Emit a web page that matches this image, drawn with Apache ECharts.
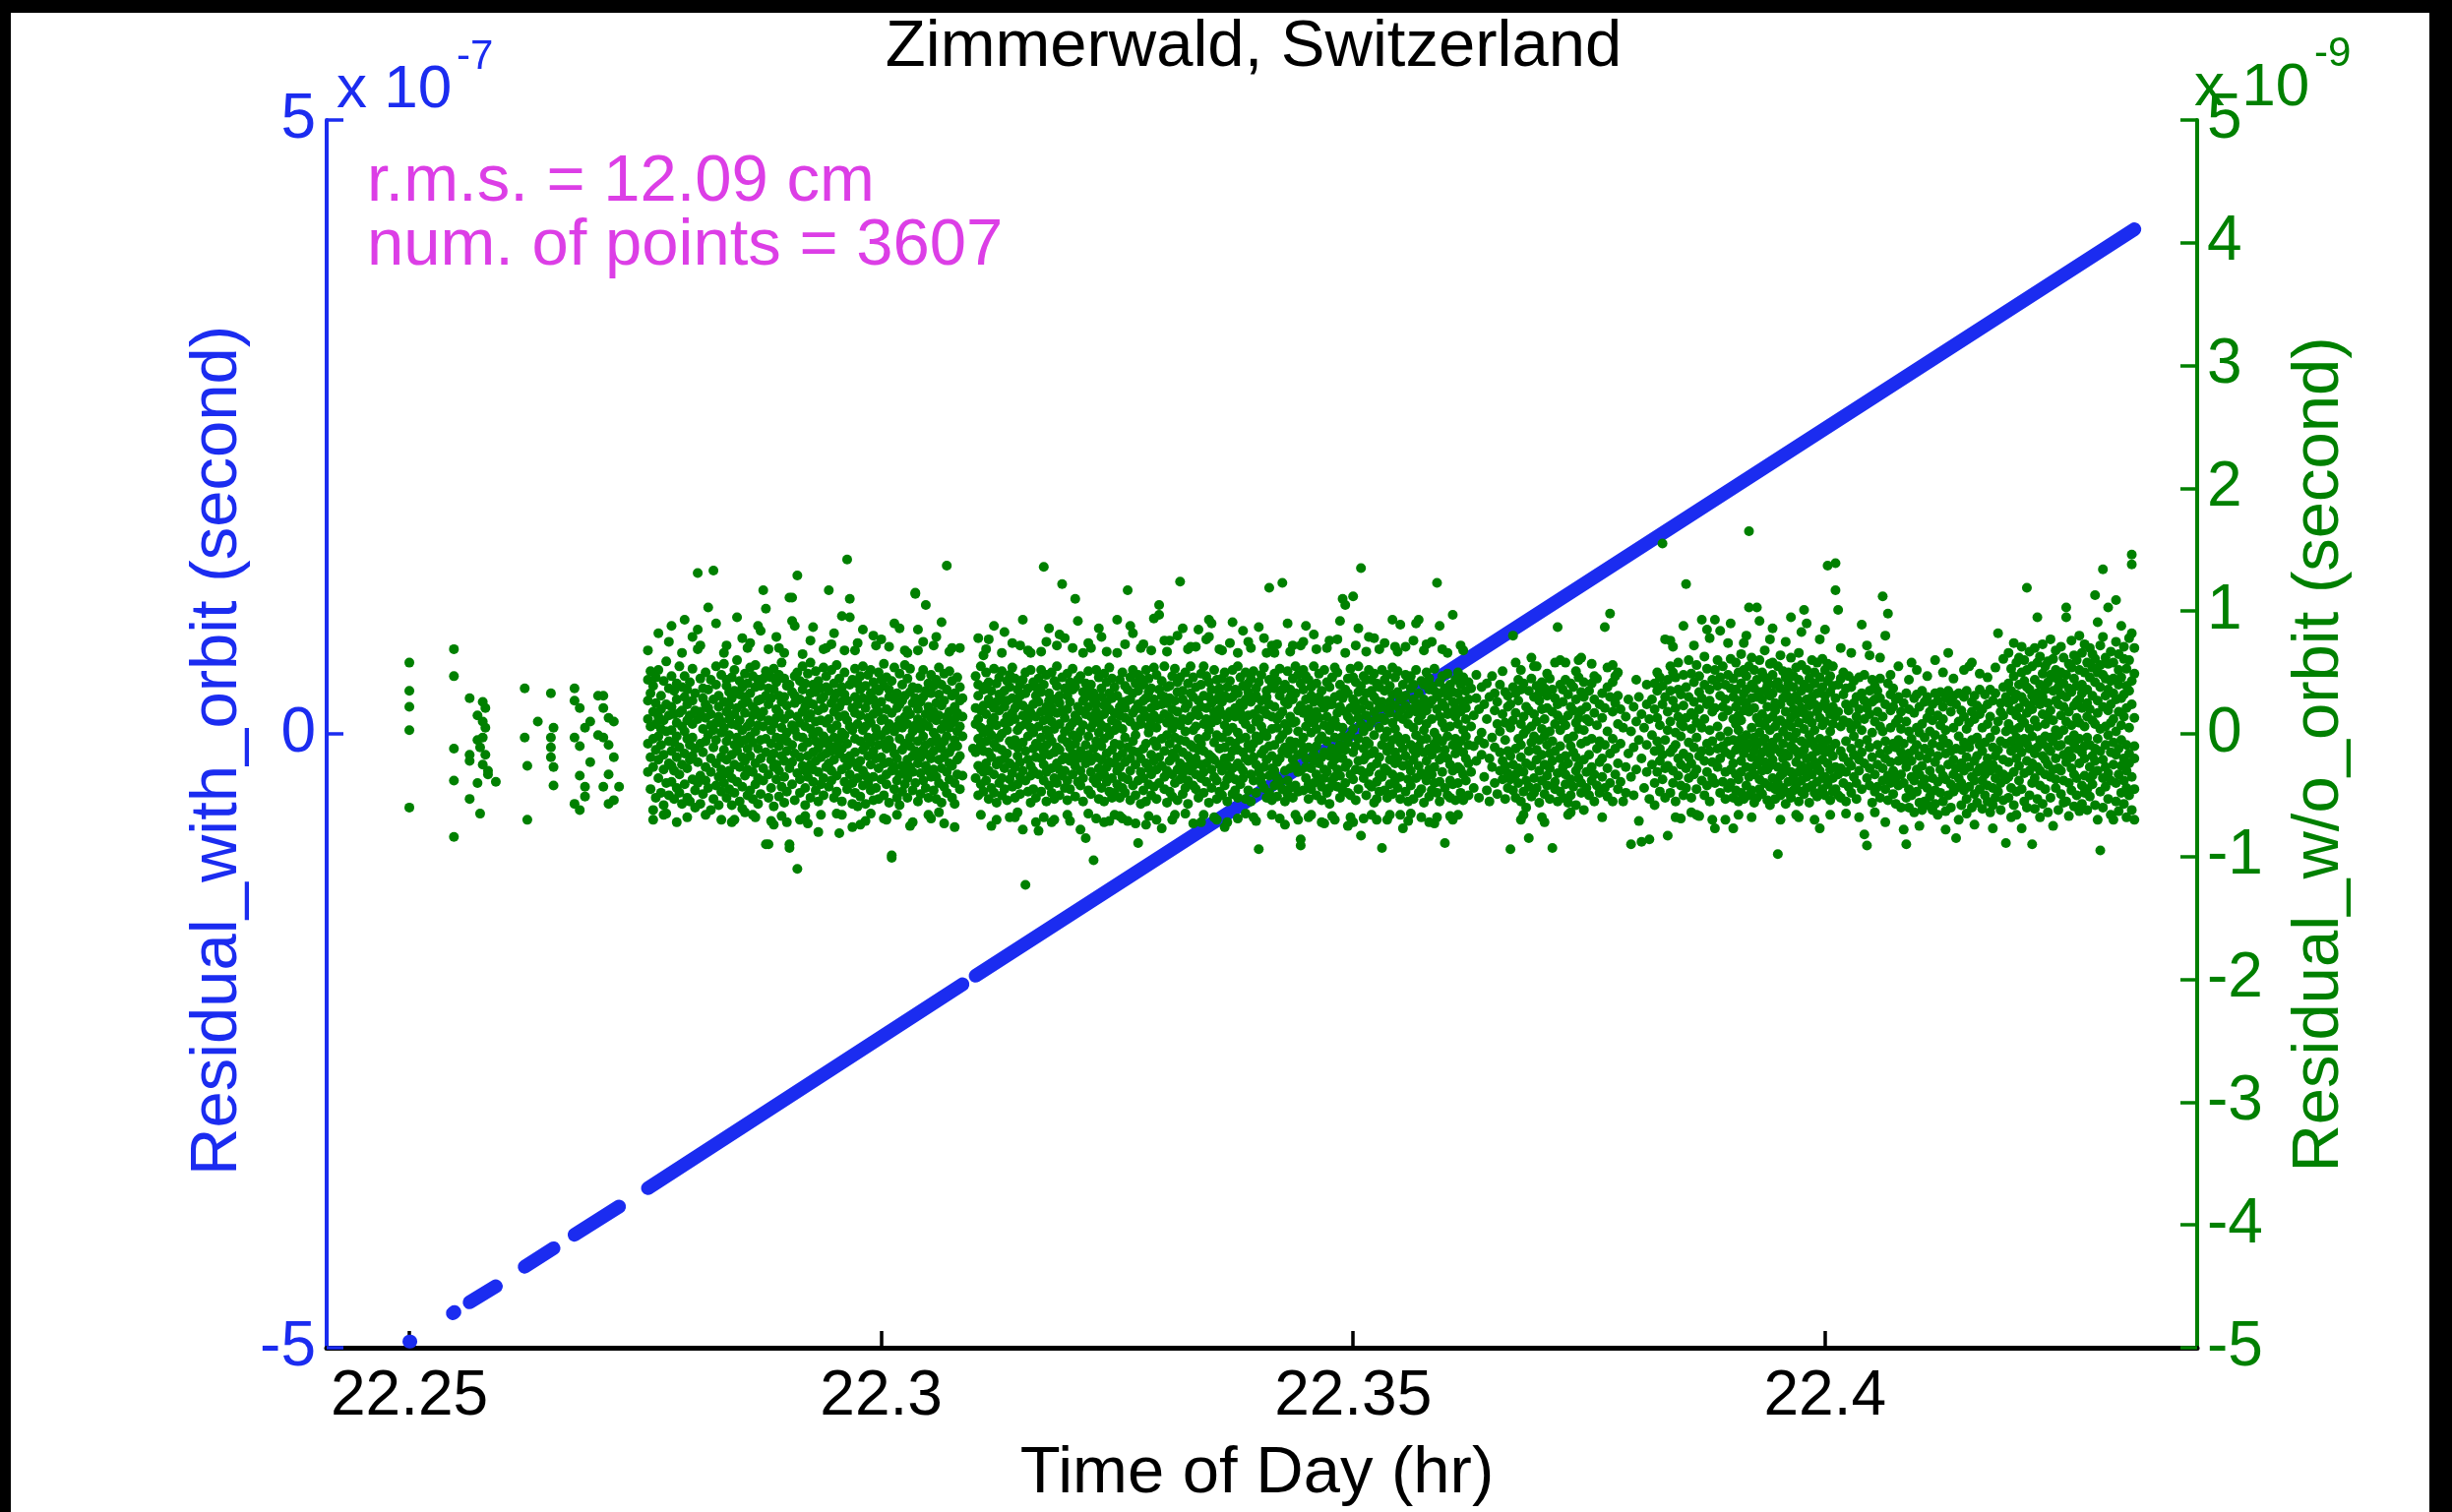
<!DOCTYPE html>
<html>
<head>
<meta charset="utf-8">
<title>Zimmerwald, Switzerland</title>
<script src="https://cdn.jsdelivr.net/npm/echarts@6/dist/echarts.min.js"></script>
<style>
  html, body { margin: 0; padding: 0; background: #ffffff; }
  #chart { width: 2492px; height: 1537px; }
</style>
</head>
<body>
<div id="chart"></div>
<script>
// ---- labels ----
const chartTitle = 'Zimmerwald, Switzerland';
const xName = 'Time of Day (hr)';
const leftName = 'Residual_with_orbit (second)';
const rightName = 'Residual_w/o_orbit (second)';
const statLines = ['r.m.s. = 12.09 cm', 'num. of points = 3607'];
const leftExponent = '-7';
const rightExponent = '-9';

// ---- axes ----
const xRange = [22.24124, 22.43943];          // hours
const xTickValues = [22.25, 22.3, 22.35, 22.4];
const leftRange = [-5, 5];                    // x 1e-7 s
const leftStep = 5;
const rightRange = [-5, 5];                   // x 1e-9 s
const rightStep = 1;

// ---- data ----
// Seconds are counted from 22:15:00 UT (22.25 h).
const startHour = 22.25;

// Residual with orbit: continuous runs of points, [first second, last second]
// and the residual at both ends of each run (units of 1e-7 s).
const blueRunSec = [[0, 0.4], [16.6, 17.2], [23, 33], [44, 55], [63, 80], [91, 211], [216, 658]];
const blueRunVal = [[-4.95, -4.95], [-4.72, -4.71], [-4.63, -4.50], [-4.34, -4.19], [-4.08, -3.85], [-3.70, -2.04], [-1.97, 4.11]];

// Residual without orbit, in units of 0.01 ns (1e-11 s).
// Each group: [first second, list for that second, list for the next second, ...]
const greenGroups = [
  [0, [58,35,22,3,-60],[],[],[],[],[],[],[],[],[]],
  [10, [],[],[],[],[],[],[],[69,47,-12,-38,-84],[],[]],
  [20, [],[],[],[29,-17,-22,-53],[],[],[15,-5,-40],[-11,-65],[26,10,-3,-25],[21,5,-17]],
  [30, [-30,-33],[],[],[-39],[],[],[],[],[],[]],
  [40, [],[],[],[],[37,-3],[-26,-70],[],[],[],[10]],
  [50, [],[],[],[],[33,-3,-11,-19],[-27,-42,5],[],[],[],[]],
  [60, [],[],[],[37,27,-3,-57],[],[21,-10,-34,-62],[],[5,-43,-51],[],[10,-23]],
  [70, [],[],[31,-1],[],[31,21,-3,-43],[],[13,-9,-33,-57],[],[10,-19,-54],[]],
  [80, [-43],[],[],[],[],[],[],[],[],[]],
  [90, [],[12,-31,44,-8,27,68],[-45,6,33,-19,51],[-62,18,-4,39,-27,-70],[8,-52,25,-13,46],[-36,14,52,-2,-21,82],[31,-9,-48,20,4],[-17,43,-58,11,-29,-66],[59,-65,2,24,-40],[-6,37,-24,15,-50,75]],
  [100, [22,-14,47,-39,3,-26,88],[-7,35,-53,16,-30],[41,-2,-44,28,9,-19,-72],[-33,17,55,-11,-48],[6,-25,38,-57,19,66],[93,-16,30,-41,2,47],[-28,11,-4,36,-52,24,-68],[-55,15,-21,42,-9],[27,-37,8,53,-18,-3,79],[-46,33,-12,19,-60]],
  [110, [131,85,69,-23,12,-40],[18,-8,45,-34,-57,72],[-15,29,4,-49,37],[50,-27,13,-6,-38,24,-66],[103,-44,21,-1,36],[-62,7,-20,44,-31,16],[133,-11,28,-53,3],[40,-24,9,-42,55,-5,90],[-35,22,-58,14,31],[1,-19,48,-29,10,-47,-70]],
  [120, [26,-40,57,-13,5,-33,66],[-21,39,-6,-52,18,44,72],[12,-30,-1,34,-45,23],[-58,8,46,-17,29,-36,-72],[35,-9,-48,16,52,-25,-70],[-3,21,-39,60,-14,7,95],[43,-55,11,-27,32,-8],[-19,3,38,-43,24,-61,78],[17,-34,49,-5,-22,30,-64],[-50,26,-12,41,6,-29,70]],
  [130, [9,-46,33,-18,54,-2,74],[-31,15,-7,47,-53,22,-66],[38,-24,2,-41,19,56,-68],[-12,44,-36,7,27,-57,88],[28,-5,-49,14,39,-20,84],[117,-28,6,45,-38,18],[102,-90,31,-15,51,-4],[-90,24,-33,11,-52,37,69],[-8,46,-21,3,-44,29,-71],[53,-16,36,-59,8,-27,-74]],
  [140, [-37,20,-3,42,-25,13,79],[31,-51,17,-10,48,-30,70],[-4,26,-43,58,-18,5,-67],[45,-22,12,-35,30,-56,66],[-14,39,-47,1,23,-6,-72],[111,-93,-90,16,-28,40],[111,-9,34,-41,7,-23,92],[25,-54,3,47,-16,31,88],[129,-110,-32,14,-2,50],[-19,43,-37,9,28,-48,-70]],
  [150, [36,-11,55,-26,-3,18,65],[-44,22,6,-30,41,-58,-67],[13,-35,49,-7,27,-18,-73],[-25,4,33,-52,16,58,76],[40,-15,-39,24,-1,-29,87],[-6,51,-22,10,-46,34],[19,-31,43,-12,2,-55,-80],[-41,28,-8,37,-19,11,-66],[54,-2,-36,21,-50,30,69],[-16,47,9,-27,38,-5,70]],
  [160, [117,-24,12,-43,35,-9],[25,-38,52,-14,4,-30,73],[-52,18,-3,41,-21,29,82],[7,-47,33,-10,56,-34,-65],[-81,22,-16,45,-5,14],[38,-29,1,-55,26,-12,-66,96],[-20,50,-39,15,-1,32,68],[142,-8,27,-45,11,-26],[110,95,-33,6,-18,40],[-57,21,44,-23,3,-40,-76]],
  [170, [30,-15,-48,17,53,-4,68],[-27,41,8,-36,24,-59,74],[15,-6,36,-22,-51,47,-74],[-42,29,-13,3,55,-30,85],[6,-34,21,-57,39,-10,-71],[-18,48,-3,-40,13,27],[52,-25,9,-46,33,-7,-65],[-35,16,-54,28,-14,42,80],[23,-44,4,37,-20,-2,72],[-9,35,-28,50,-53,18]],
  [180, [44,-19,26,-37,-1,11,77],[-50,12,39,-24,57,-8,-69],[3,-41,20,-12,46,-33,-70],[-23,30,-56,8,-5,36,71],[-101,-99,17,-30,43,-11],[28,-16,54,-45,2,-27,90],[-38,6,-20,33,-52,21,-66],[11,49,-33,-4,24,-58,86],[-13,27,-47,40,-26,5],[56,-30,14,-8,-41,31,68]],
  [190, [-21,8,45,-36,19,-52,66],[34,-10,-27,53,-3,16,-75],[-46,25,2,-18,38,-31,-72],[114,115,-14,29,-40,7],[20,-55,37,-6,12,-24,68,85],[-32,47,-19,4,-49,26],[9,-38,30,-13,52,-2,75],[105,-26,16,-44,35,-9],[-17,41,-52,22,-30,6,-66],[48,-7,-35,13,-20,33,-69]],
  [200, [-29,18,-46,39,1,-14,72],[25,-53,11,-3,44,-35,79],[-8,32,-21,54,-40,15,-64],[40,-12,-56,23,-28,4,91],[-43,27,8,-19,49,-6,-73],[137,-31,14,-48,36,-2],[18,-24,51,-37,5,-15,67],[-52,9,-11,31,-26,43,70],[33,-40,22,-5,-57,12,-76],[-10,46,-33,17,-21,2]],
  [210, [27,-18,-45,38,6,70],[-34,14,-2,29],[],[],[],[-12],[21,-36,8,47,-15],[-26,40,-50,12,-4,31,78],[5,-29,55,-41,19,-9,-66],[-47,23,-14,36,-31,1,64]],
  [220, [39,-6,-38,16,50,-24,69],[-15,28,-53,4,-30,42,77],[24,-44,10,-19,35,-1,-75],[-33,53,-8,21,-48,13,88],[7,-25,41,-56,26,-11,-70],[-40,19,-3,46,-22,32],[51,-13,28,-36,0,-50,66],[-20,35,-45,9,22,-28,83],[14,-54,3,43,-16,27],[-37,10,48,-24,-6,38,-68]],
  [230, [29,-32,17,-9,54,-43,74],[-5,45,-27,12,-52,21,-68],[36,-18,-41,26,3,-11,-64],[-49,31,6,-23,40,-35,72],[-78,15,-7,44,-30,23,93],[-123,33,-14,50,-38,8],[20,-47,37,-2,-21,12,68],[-26,5,52,-34,17,-56,66],[42,-12,-30,24,-45,1],[-8,38,-52,14,31,-19,-72]],
  [240, [-79,26,-10,45,-33,6],[34,-20,-47,18,-3,52,67],[136,-38,11,-25,40,-14,-68],[-55,22,3,-31,48,-9,75],[16,-42,33,-17,-2,27,86],[-28,50,-6,-48,21,10,-72],[43,-15,-36,28,-53,4,-70],[-11,39,-24,55,-40,17,72],[25,-50,8,-13,31,-29,81],[122,-34,19,-4,46,-21]],
  [250, [-44,13,-19,37,2,-30,78],[31,-7,49,-38,20,-54,-66],[-22,42,-11,-45,26,6,-71],[9,-33,53,-16,-1,36,70],[110,-26,15,-51,38,-8],[-39,22,-3,44,-20,11,92],[47,-14,-42,19,-30,2,-78],[-18,34,-55,7,27,-36,66],[-85,16,-9,41,-24,30],[22,-46,35,-2,-17,51,74,-65]],
  [260, [-31,5,40,-22,14,-49,70],[-103,28,-12,33,-37,9],[18,-40,52,-6,24,-19,-69],[-53,12,-28,46,1,-35,86],[37,-21,7,-44,30,-10,79],[-4,49,-33,16,-55,23,-72],[26,-16,42,-39,5,-27,67],[-47,33,-1,20,-23,54,-71],[11,-36,29,-13,45,-52],[-24,17,-48,38,-8,3,-66]],
  [270, [93,-19,31,-41,8,-30,66],[44,-9,-52,22,-27,15,-67],[-35,26,4,-16,50,-44,-69],[13,-48,39,-3,21,-23,73],[117,-71,27,-11,36,-37],[-20,46,-30,10,-54,28,88],[33,-6,52,-42,17,-14,82],[-50,20,-25,6,41,-1,-73],[-89,35,-15,24,-38,48],[8,-31,45,-20,12,-57,70]],
  [280, [-12,40,-36,19,-46,27,73],[29,-55,14,-8,52,-24,-74],[-41,6,34,-28,1,45,-67],[21,-17,-50,37,-33,10,68],[-6,54,-22,28,-43,15,94],[48,-29,5,-53,23,-10,-70],[105,97,-19,36,-40,12],[-77,24,-4,43,-26,31],[16,-45,30,-14,55,-35,76],[-30,9,-56,25,-1,38,67]],
  [290, [39,-22,13,-47,29,-8,76],[-16,47,-33,4,20,-51,-70],[27,-3,-40,53,-19,10,-66],[-54,34,-12,18,-29,42,80],[124,-37,7,-24,46,-5],[12,-49,35,-15,28,-32,86],[-27,21,-6,50,-44,2,-65],[41,-18,24,-38,11,-57,69],[-9,55,-30,14,-21,33,71],[30,-42,3,-11,46,-26,-73]],
  [300, [-45,19,38,-20,6,-33,71],[85,-13,27,-52,15,-4],[22,-36,49,-8,-25,40,-72],[-31,8,-48,31,-14,55,-66],[47,-24,12,-39,21,-2,77],[93,-56,30,-17,3,42,79],[-19,36,-44,9,25,-29,90],[14,-7,52,-35,-21,18,-68],[-38,28,-1,44,-53,11,-70],[33,-47,20,-12,37,-25,69]],
  [310, [-3,45,-30,16,-50,26,68],[50,-20,7,-42,31,-11,-76],[-26,13,-55,38,2,-37,-72],[18,-33,43,-6,-19,29,74],[-49,30,-14,52,-28,5,91],[36,-8,-37,21,-46,14],[-13,55,-24,1,33,-52,-69,66],[25,-41,17,-27,46,-4],[-36,11,39,-15,-30,23,84],[8,-53,28,-3,50,-20,-65]],
  [320, [-22,34,-46,15,-9,41,75],[45,-12,-33,26,-55,4,70],[-8,29,-19,51,-38,16,-68],[31,-48,10,-25,37,-2,-71],[-94,20,-5,42,-31,12,87],[-40,48,-16,6,27,-35],[19,-27,54,-44,1,-13,78],[-52,16,-2,35,-21,30,66],[119,-34,24,-10,44,-48],[4,-18,39,-54,14,-28,-66,72]],
  [330, [37,-9,-42,22,-30,49,66],[-23,43,-51,12,5,-36,73],[15,-39,31,-4,-20,53,-69],[123,-45,18,-14,36,-1],[-30,26,-55,40,-11,8,-74],[51,-16,3,-38,24,-49,90],[-6,36,-28,14,-44,30,67],[28,-52,45,-21,9,-12,72],[-42,10,-7,33,-26,55,-66],[19,-31,48,-47,2,-17,-70]],
  [340, [-86,-91,23,-8,41,-30,72],[36,-14,-46,17,-3,52,75],[-27,47,-36,6,28,-20,88],[12,-53,20,-11,44,-41,-68],[-45,31,1,-28,15,38,-66],[55,-22,-40,9,-16,26,81],[-10,18,-50,41,-33,4,69],[30,-37,13,-5,49,-24],[-54,25,-19,35,-2,-43,-72],[7,-29,52,-15,21,-36,-73]],
  [350, [42,-6,-31,27,-48,14,70],[-18,38,-44,3,24,-57,76],[24,-25,46,-12,-38,9,-67],[-35,11,-3,54,-21,30,-70],[50,-43,17,-29,6,-15,77],[-9,32,-52,22,-34,40,92],[110,-20,5,-46,29,-2],[105,-40,36,-13,18,-27,66],[-48,14,-24,45,-7,33,-75],[21,-33,53,-1,-50,11,-68]],
  [360, [112,-15,28,-37,4,46,-72],[-29,42,-10,19,-54,25,72],[34,-4,-45,13,-22,55,86],[135,-83,20,-30,8,39],[-21,47,-36,2,27,-12,-69],[15,-50,33,-18,-6,44,67],[-41,23,-8,52,-31,6,79],[44,-27,10,-43,35,-16,-66],[-14,30,-56,18,-1,49,78],[27,-39,41,-24,13,-53,-70]],
  [370, [-33,5,-19,38,-47,21,69],[-93,52,-9,26,-35,13],[11,-46,35,-3,-28,44,74],[-52,20,-14,48,2,-30,-70],[39,-10,26,-41,17,-21,-66],[-5,54,-33,9,-49,32,93],[23,-24,46,-15,-38,4,71],[-44,14,-2,34,-20,51,67],[89,-35,19,-53,28,-7,-66],[-77,40,-26,12,-12,30]],
  [380, [31,-18,-47,23,-4,48,71],[-25,45,-37,16,-55,8,-71],[47,-9,20,-30,37,-42,-65],[-13,28,-53,5,-21,40,76],[18,-36,52,-16,-1,25,90],[93,-48,11,-26,33,-10],[-32,22,-5,43,-45,15,-68],[40,-15,-34,28,-56,3,68],[-4,50,-22,8,19,-38,73],[24,-51,36,-12,-29,45,-72]],
  [390, [-46,12,-17,39,-33,27,75],[35,-27,53,-8,1,-40,-73],[123,-12,30,-48,20,-3,-68],[-21,42,-39,14,-55,33,88],[9,-31,25,-6,47,-19,69],[-89,37,-13,22,-44,5],[49,-20,-50,31,-2,16,66],[-38,17,6,-25,40,-52,-67],[97,-41,26,-9,34,-30,-70],[14,-54,44,-16,-4,21]],
  [400, [-27,33,-40,8,50,-12,-66],[40,-6,-29,18,-48,27,72],[-15,46,-54,3,22,-33,68],[21,-38,35,-20,12,-2],[-50,28,-9,42,-24],[6,-31,37],[-44,15,-10],[29,-22,48],[-5,-52,20],[38,-17,1]],
  [410, [-35,24,-8],[12,-46,41],[-20,30,-55],[47,-3,-27],[-11,19,-40,33],[26,-49,8],[-30,40,-15,2],[16,-37,51,-22],[-53,9,34,-26,-5],[31,-14,-44,22,-32]],
  [420, [-94,24,-37,5,-18],[80,-46,11,-25,38],[-12,33,-52,17,-33,58],[27,-40,-4,-28,44],[-55,8,-19,36,-9,-70,52],[14,-31,41,-47,0,-66],[-24,22,-60,3,-38],[-85,35,-14,19,-43],[6,-26,45,-51,-7,62],[-36,16,-2,30,-48,55]],
  [430, [39,-21,-44,10,-13,55],[-5,27,-56,33,-30],[20,-38,4,-17,42,-68],[-49,12,-25,37,-2,-72],[31,-9,-42,21,-34,49],[-16,45,-28,2,-53],[-93,18,-6,36,-22],[8,-45,29,-14,-39,58],[87,-32,15,-55,24],[-20,40,-10,-47,3,60]],
  [440, [26,-27,-52,11,36],[-41,7,-18,44,-33,58],[15,-56,32,-4,-24,-66],[-10,22,-37,41,-50,-64],[38,-15,-2,-43,19],[-30,28,-58,9,-19,51],[4,-36,46,-26,13,60],[-48,19,-8,34,-40,62],[-62,30,-21,3,42],[22,-44,12,-31,-6]],
  [450, [-17,35,-50,10],[41,-27,-4,-38,57],[-33,17,-55,28,47],[7,-42,45,-12],[-23,24,-6,-48],[33,-35,13,-20,-68],[87,-9,-44,21],[-51,38,2,-28,54],[98,-16,30,-40],[-4,18,-55,42,56]],
  [460, [25,-33,-12,47],[-45,8,-24,31,50],[-8,-39,20],[-55,5],[14,-27,-48],[-16,28],[-90,-35,2],[22,-50,-11],[-29,10,44],[-71,30,-5]],
  [470, [-88,-20,16],[5,-44],[-31,24,-9,40],[-86,-53,12],[28,-25,-1],[-40,41,-14,20,-58],[13,-31,35,-6,50],[-22,46,-47,7,-12],[155,-37,24,-17,39],[77,-5,-52,30,-28]],
  [480, [-83,18,-26,44,3],[35,-48,10,-15,55,76],[-12,27,-40,50,-30,71],[46,-9,-55,21,1,-68],[-34,36,-20,14,58],[8,-42,32,-2,-25,-69],[-50,23,48,-16,6,88],[122,-28,13,-44,38],[30,-7,-36,60,-19],[-24,49,4,-52,17,-64]],
  [490, [15,-33,42,-11,26,72],[-45,9,56,-29,-3,-66],[-67,34,-18,20,47],[93,-38,5,29,-14],[40,-22,-50,12,63],[-8,53,-31,24,-42,85],[27,-14,36,-55,3,78],[-36,44,-6,18,-23,-70],[93,-77,21,-40,52],[6,-27,39,-12,60]],
  [500, [-48,31,-2,46,-20,84],[22,-39,55,-10,14],[-15,28,-53,40,-31,-70],[48,-6,19,-44,2,74],[-29,37,-17,61,-40,90],[-77,12,45,-24,30,-5,-52],[36,-33,8,58,-13,22,-46],[-10,50,-37,27,-55,15,3,-66],[41,-22,-4,65,-31,11,-48],[-53,19,33,-16,52,-7,26,74]],
  [510, [24,-42,47,-1,-27,36,-12,80],[165,103,-35,18,-8,55,-50],[-19,40,5,-46,29,-28,62,-68],[52,-14,-56,21,-3,37,-33],[103,-25,44,-9,13,-52,30],[-37,9,60,-20,34,-45,1,92],[16,-49,28,-6,50,-30,-15],[-4,35,-40,46,-23,7,68],[43,-29,12,-54,22,-11,39],[-26,57,-16,3,-43,31,-58,77]],
  [520, [33,-7,48,-36,14,-21,58,86],[-45,25,-12,40,-53,6,19],[-98,42,-27,10,55,-40,-3],[11,-34,37,-15,64,-50,24,-70],[-20,51,-44,2,29,-8,-32],[46,-16,18,-57,35,-26,8,75],[-39,30,-2,50,-18,41,-48],[6,-52,26,-31,62,13,-10,95],[-12,38,-46,20,-4,47,-36],[54,-23,1,-42,31,-14,16,-66]],
  [530, [-31,44,-17,27,-55,9,66,-68],[21,-38,56,-6,-26,35,-47,83],[101,-13,40,-49,17,-30,4],[-44,28,-8,52,-20,12,-35,90],[37,-56,15,-1,45,-27,23],[-18,60,-33,9,-42,30,-6],[50,-10,24,-48,3,-23,41,-70],[-27,33,-51,18,58,-14,-39],[-77,13,46,-30,22,-4,34,77],[7,-45,38,-21,61,-36,-9]],
  [540, [-35,26,-15,52,-50,10,31,85],[137,-24,43,-5,-41,20,57],[16,-54,34,-12,-29,47,2,-66],[-47,22,-36,55,8,-18,39],[139,117,-8,29,-45,14,-27],[101,-33,18,-50,40],[-14,45,-28,6,-52,70],[32,-40,11,-19,50],[-55,24,-6,37,-31,-65],[9,-23,47,-43,19]],
  [550, [-26,38,-12,-48,4,66],[43,-17,25,-35,-2],[-40,14,-53,30,8],[20,-30,46,-8,-21,-68],[89,-45,3,33,-15],[-82,27,-24,12,48],[72,-91,-5,21,-36],[35,-11,-42,16,-28,64],[-19,44,-56,1,26],[28,-33,10,-47,39,-64]],
  [560, [-43,18,-9,35,-25],[6,-52,29,-16,45,62],[112,-28,14,-38,2],[80,-6,-45,24,-20,-72],[98,-34,41,-13,-54],[-23,19,-40,5,32,48],[37,-49,-8,22,-30],[-11,28,-36,9,-57],[12,-42,-22,30,-5,55],[-33,4,-60,18,-15]],
  [570, [-78,-8,25,-40,-21],[-90,10,-52,-27,33],[-16,-45,2,-60,20,44],[58,-35,-4,-22,-50],[17,-64,-13,29,-38],[-29,5,-47,-9,32,52],[-56,22,-18,-33,1,-75],[8,-41,-26,35,-62],[-12,26,-55,-3,-37],[-44,13,-20,-58,30,47]],
  [580, [2,-30,-51,18,-15],[-62,24,-8,-36,11],[-23,33,-46,-1,-57,60],[15,-39,-18,27,-66],[-48,7,-29,34,-10],[22,-55,-4,-34,12,50],[-37,29,-63,-16,3,-78],[66,35,-25,-50,-8],[-14,18,-41,-60,26],[5,-33,-21,31,-47,45]],
  [590, [-85,-12,24,-44,-28],[-70,10,-36,-2,33],[-24,-58,19,-13,-40],[30,-46,-7,-30,14,52],[-53,4,-19,35,-65],[55,-27,-43,9,-11],[-35,26,-60,-5,18,58],[12,-49,-22,31,-38,-74],[-18,-3,-56,23,-31],[-45,16,-28,-9,36,49]],
  [600, [20,-38,-14,-61,5],[-26,32,-50,-7,-33],[8,-55,24,-20,-42,46],[-64,14,-30,36,-3],[-11,-44,27,-25,-58,-77],[33,-18,-52,3,-36,54],[82,-29,10,-47,-13],[-40,25,-6,-62,18],[15,-33,-21,38,-54,61],[-89,-8,30,-37,2]],
  [610, [41,-23,66,-52,8,-35,25],[-6,53,-44,19,-68,35,-14],[28,-31,74,-12,47,-58,3],[-47,15,-20,58,-3,32,-66],[62,-38,5,40,-26,21,-9],[-77,30,-15,50,-45,12,71],[9,-55,43,-4,26,-32,60],[119,-22,38,-60,17,-8,52],[-30,67,-12,23,-50,4,36],[-90,20,-40,55,-2,31,-24]],
  [620, [44,-16,70,-36,11,-61,27],[95,-27,33,-53,6,58,-11],[-42,24,-5,63,-30,40,-68],[16,-57,49,-18,73,-8,30],[-21,36,-45,8,55,-33,-2],[59,-11,25,-64,42,-25,14],[-35,48,-3,19,-52,77,-14],[-75,11,61,-29,35,-6,46],[27,-44,3,52,-20,68,-37],[-10,38,-62,24,-1,44,-28]],
  [630, [50,-30,15,-49,71,-9,32],[-56,22,-17,41,3,-38,62],[103,95,-23,30,-55,10,48],[-5,57,-40,18,-67,37,-14],[34,-19,76,-46,7,-28,54],[-33,45,-8,23,-59,64,-1],[13,-50,39,-12,60,-36,26],[-63,28,-4,52,-24,9,80],[40,-15,21,-57,33,-42,66],[-20,50,-34,6,73,-10,-48]],
  [640, [25,-45,58,-3,36,-62,14],[-9,70,-27,46,-51,20,-36],[54,-34,11,-18,65,-41,31],[113,-22,42,-58,8,61,-12],[91,-70,27,-4,50,-30,17],[-95,38,-14,72,-47,4,56],[134,-21,48,-36,22,-60,79],[6,62,-43,31,-9,45,-27],[103,-53,19,-1,57,-32,36],[-38,24,67,-15,43,-66,9]],
  [650, [45,-70,12,58,-25,33,-7],[109,-40,28,-17,75,2,-55],[-12,52,-33,40,-63,18,65],[88,-26,7,46,-48,29,-5],[32,-57,61,-20,14,-38,71],[-44,21,-9,53,-30,39,-68],[60,-16,35,-50,5,78,-24],[146,138,82,-35,24,-62,43],[-20,49,-10,70,-45,13,-70]]
];

// ---- colours ----
const blue = '#1b2cf0';
const green = '#008000';
const magenta = '#dc3ee6';
const fontFamily = '"Liberation Sans", Arial, Helvetica, sans-serif';

// ---- build series data ----
const toHour = s => startHour + s / 3600;

const greenPoints = [];
greenGroups.forEach(group => {
  const first = group[0];
  for (let i = 1; i < group.length; i++) {
    const sec = first + i - 1;
    group[i].forEach(v => greenPoints.push([toHour(sec), v / 100]));
  }
});

const blueSeries = blueRunSec.map((run, k) => ({
  type: 'line',
  yAxisIndex: 0,
  data: [[toHour(run[0]), blueRunVal[k][0]], [toHour(run[1]), blueRunVal[k][1]]],
  showSymbol: false,
  silent: true,
  animation: false,
  lineStyle: { color: blue, width: 14, cap: 'round', join: 'round' },
  z: 2
}));

const chart = echarts.init(document.getElementById('chart'), null, { renderer: 'canvas' });

const W = 2492, H = 1537;
const grid = { left: 332, right: W - 2233, top: 122, bottom: H - 1370 };

chart.setOption({
  backgroundColor: '#ffffff',
  animation: false,
  textStyle: { fontFamily: fontFamily },
  title: {
    text: chartTitle,
    left: 1269,
    top: 10,
    textAlign: 'center',
    textStyle: { fontFamily: fontFamily, fontSize: 67, fontWeight: 'normal', color: '#000000' }
  },
  grid: Object.assign({ containLabel: false, outerBoundsMode: 'none' }, grid),
  xAxis: {
    type: 'value',
    min: xRange[0],
    max: xRange[1],
    axisLine: { show: true, onZero: false, lineStyle: { color: '#000000', width: 5 } },
    axisTick: { show: true, inside: true, length: 17, customValues: xTickValues, lineStyle: { color: '#000000', width: 3.5 } },
    axisLabel: {
      show: true, customValues: xTickValues, margin: 18,
      fontFamily: fontFamily, fontSize: 64, color: '#000000', lineHeight: 64,
      formatter: v => String(Math.round(v * 100) / 100)
    },
    splitLine: { show: false },
    name: xName,
    nameLocation: 'middle',
    nameGap: 95,
    nameTextStyle: { fontFamily: fontFamily, fontSize: 67, color: '#000000', lineHeight: 67, padding: [0, 10, 0, 0] }
  },
  yAxis: [
    {
      type: 'value',
      position: 'left',
      min: leftRange[0], max: leftRange[1], interval: leftStep,
      axisLine: { show: true, onZero: false, lineStyle: { color: blue, width: 4 } },
      axisTick: { show: true, inside: true, length: 17, lineStyle: { color: blue, width: 3.5 } },
      axisLabel: { show: true, margin: 11, fontFamily: fontFamily, fontSize: 64, color: blue },
      splitLine: { show: false }
    },
    {
      type: 'value',
      position: 'right',
      min: rightRange[0], max: rightRange[1], interval: rightStep,
      axisLine: { show: true, onZero: false, lineStyle: { color: green, width: 4 } },
      axisTick: { show: true, inside: true, length: 17, lineStyle: { color: green, width: 3.5 } },
      axisLabel: { show: true, margin: 10, fontFamily: fontFamily, fontSize: 64, color: green },
      splitLine: { show: false }
    }
  ],
  series: blueSeries.concat([{
    type: 'scatter',
    yAxisIndex: 1,
    data: greenPoints,
    symbol: 'circle',
    symbolSize: 10,
    itemStyle: { color: green, opacity: 1 },
    large: false,
    progressive: 0,
    silent: true,
    animation: false,
    z: 3
  }]),
  graphic: [
    // axis titles
    { type: 'text', x: 222, y: 763, rotation: Math.PI / 2, z: 10,
      style: { text: leftName, fill: blue, fontSize: 67, fontFamily: fontFamily, align: 'center', verticalAlign: 'middle' } },
    { type: 'text', x: 2358, y: 767, rotation: Math.PI / 2, z: 10,
      style: { text: rightName, fill: green, fontSize: 67, fontFamily: fontFamily, align: 'center', verticalAlign: 'middle' } },
    // scale factors of the two y axes
    { type: 'text', x: 342, y: 92, z: 10,
      style: { text: 'x 10', fill: blue, fontSize: 62, fontFamily: fontFamily, align: 'left', verticalAlign: 'middle' } },
    { type: 'text', x: 464, y: 58, z: 10,
      style: { text: leftExponent, fill: blue, fontSize: 42, fontFamily: fontFamily, align: 'left', verticalAlign: 'middle' } },
    { type: 'text', x: 2230, y: 90, z: 10,
      style: { text: 'x 10', fill: green, fontSize: 62, fontFamily: fontFamily, align: 'left', verticalAlign: 'middle' } },
    { type: 'text', x: 2352, y: 55, z: 10,
      style: { text: rightExponent, fill: green, fontSize: 42, fontFamily: fontFamily, align: 'left', verticalAlign: 'middle' } },
    // fit statistics
    { type: 'text', x: 373, y: 186, z: 10,
      style: { text: statLines[0], fill: magenta, fontSize: 67, fontFamily: fontFamily, align: 'left', verticalAlign: 'middle' } },
    { type: 'text', x: 373, y: 251, z: 10,
      style: { text: statLines[1], fill: magenta, fontSize: 67, fontFamily: fontFamily, align: 'left', verticalAlign: 'middle' } },
    // dark frame edges
    { type: 'rect', z: 20, shape: { x: 0, y: 0, width: W, height: 13 }, style: { fill: '#000000' } },
    { type: 'rect', z: 20, shape: { x: 0, y: 0, width: 11, height: H }, style: { fill: '#000000' } },
    { type: 'rect', z: 20, shape: { x: 2469, y: 0, width: W - 2469, height: H }, style: { fill: '#000000' } }
  ]
});
</script>
</body>
</html>
